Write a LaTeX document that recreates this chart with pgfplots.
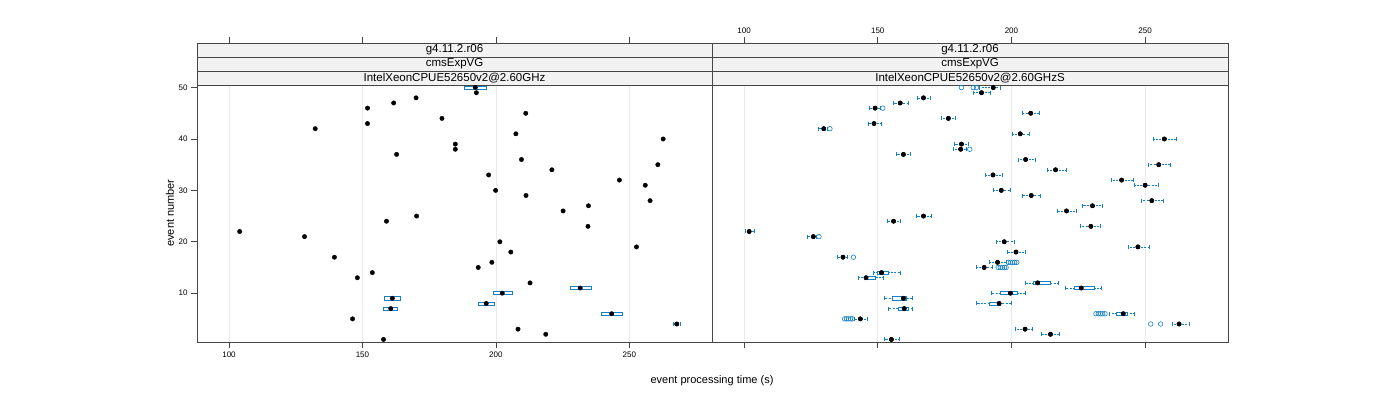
\documentclass[border=0pt]{standalone}
\usepackage{pgfplots}
\pgfplotsset{compat=1.18}
\usepackage{pgfplotstable}
\usepgfplotslibrary{statistics}
\usepackage{fontspec}
\setmainfont{Liberation Sans}
\definecolor{bwblue}{RGB}{20,128,200}
\definecolor{stripbg}{RGB}{242,242,242}
\definecolor{framecol}{RGB}{70,70,70}

% left panel: median per event
\pgfplotstableread{
ev med
1 157.9
2 218.7
3 208.3
4 267.8
5 146.3
6 243.4
7 160.6
8 196.4
9 161.2
10 202.4
11 231.6
12 212.8
13 148.1
14 153.7
15 193.4
16 198.5
17 139.5
18 205.6
19 252.7
20 201.5
21 128.3
22 104.0
23 234.5
24 159.0
25 170.3
26 225.2
27 234.7
28 257.8
29 211.3
30 199.9
31 256.0
32 246.3
33 197.3
34 221.0
35 260.7
36 209.6
37 162.8
38 184.8
39 184.8
40 262.7
41 207.5
42 132.3
43 151.9
44 179.8
45 211.2
46 151.9
47 161.7
48 170.1
49 192.7
50 192.3
}\leftstats

\pgfplotstableread{
ev med lw uw
4 267.8 266.5 269.2
}\leftwhisk

% right panel: median, whisker ends
\pgfplotstableread{
ev med lw uw
1 155.1 152.6 157.9
2 214.6 211.2 218.0
3 205.1 201.6 207.9
4 262.7 260.2 266.7
5 143.5 141.3 145.9
6 241.8 236.6 245.9
7 159.9 153.9 162.8
8 195.4 187.0 199.8
9 159.6 152.6 163.0
10 199.6 192.6 205.0
11 226.1 220.2 233.5
12 209.8 205.0 217.4
13 145.6 142.9 151.9
14 151.4 148.5 158.3
15 189.8 186.7 193.0
16 194.8 191.7 198.0
17 137.0 135.0 138.5
18 201.7 198.6 205.2
19 247.3 243.7 251.6
20 197.3 194.2 200.9
21 125.9 123.8 127.0
22 101.9 100.3 103.8
23 229.7 225.8 233.3
24 155.9 153.4 158.6
25 167.1 164.5 170.1
26 220.6 217.1 224.3
27 230.3 226.6 234.1
28 252.5 248.4 256.7
29 207.4 204.2 210.9
30 196.2 193.3 199.6
31 250.0 245.9 255.1
32 241.2 237.3 245.5
33 193.1 190.1 196.5
34 216.5 213.3 220.5
35 255.1 251.1 259.6
36 205.3 202.5 208.8
37 159.6 157.1 162.1
38 181.0 178.3 183.0
39 181.3 178.8 183.7
40 257.2 253.1 261.7
41 203.3 200.2 206.8
42 129.8 127.9 131.2
43 148.6 146.3 151.4
44 176.4 173.8 179.0
45 207.2 204.0 210.5
46 149.0 146.8 150.9
47 158.4 155.9 161.3
48 167.1 164.6 169.8
49 188.8 185.6 192.0
50 193.2 187.9 195.8
}\rightstats

% right panel: outliers
\pgfplotstableread{
ev x
4 252.1
4 255.8
5 137.6
5 138.3
5 139.0
5 139.8
5 140.5
6 231.6
6 232.5
6 233.3
6 234.1
6 235.0
15 195.0
15 195.8
15 196.6
15 197.4
15 198.0
16 198.8
16 199.6
16 200.4
16 201.2
16 202.0
17 140.9
21 128.0
38 184.4
42 132.1
46 151.9
50 181.3
50 185.7
50 186.9
}\rightout

\pgfplotsset{
  panel/.style={
    scale only axis, width=#1, height=299pt,
    xmin=88, xmax=281, ymin=0.5, ymax=58.67,
    xtick={100,150,200,250},
    tick align=outside, major tick length=6pt,
    tick style={framecol, line width=0.6pt},
    axis line style={framecol, line width=0.8pt},
    xmajorgrids, major grid style={gray!15, line width=0.6pt},
    ticklabel style={font=\fontsize{8}{9}\selectfont},
    /pgf/number format/assume math mode=true,
    clip=true,
  },
  bwbox/.style={draw=bwblue, fill=white, line width=0.55pt, solid,
    boxplot/draw direction=x, boxplot/box extend=0.6,
    boxplot/whisker extend=0,
    boxplot/every median/.style={draw=none},
    forget plot},
  whisk/.style={only marks, mark=none, forget plot,
    error bars/.cd, x dir=both, x explicit, error mark=none,
    error bar style={draw=bwblue, line width=0.6pt, dash pattern=on 2pt off 1.2pt}},
  wend/.style={only marks, mark=|, mark size=2pt,
    mark options={draw=bwblue, line width=0.6pt, solid}, forget plot},
  meddot/.style={only marks, mark=*, mark size=2.2pt,
    mark options={fill=black, draw=black}, forget plot},
  outl/.style={only marks, mark=o, mark size=2.3pt,
    mark options={draw=bwblue, line width=0.6pt}, forget plot},
}

\newcommand{\strips}[1]{%
  \filldraw[fill=stripbg, draw=framecol, line width=0.8pt] (axis cs:88,50.5) rectangle (axis cs:281,53.22);
  \filldraw[fill=stripbg, draw=framecol, line width=0.8pt] (axis cs:88,53.22) rectangle (axis cs:281,55.95);
  \filldraw[fill=stripbg, draw=framecol, line width=0.8pt] (axis cs:88,55.95) rectangle (axis cs:281,58.67);
  \node[font=\fontsize{11.5}{12}\selectfont, inner sep=0pt] at (axis cs:184.5,51.86) {#1};
  \node[font=\fontsize{11.5}{12}\selectfont, inner sep=0pt] at (axis cs:184.5,54.59) {cmsExpVG};
  \node[font=\fontsize{11.5}{12}\selectfont, inner sep=0pt] at (axis cs:184.5,57.31) {g4.11.2.r06};
}

\begin{document}
\begin{tikzpicture}[x=1pt, y=1pt]
\useasboundingbox (0,0) rectangle (1400,400);

% ---------- left panel ----------
\begin{axis}[panel=515pt, at={(197pt,58pt)}, anchor=south west,
  xtick pos=both, xticklabel pos=lower,
  ytick={10,20,30,40,50}, ytick pos=left]
\addplot[whisk] table[x=med, y=ev,
  x error plus expr=\thisrow{uw}-\thisrow{med},
  x error minus expr=\thisrow{med}-\thisrow{lw}] {\leftwhisk};
\addplot[wend] table[x=lw, y=ev] {\leftwhisk};
\addplot[wend] table[x=uw, y=ev] {\leftwhisk};
\addplot[bwbox, boxplot prepared={draw position=50, lower quartile=188.1, median=192.3, upper quartile=196.4, lower whisker=188.1, upper whisker=196.4}] coordinates {};
\addplot[bwbox, boxplot prepared={draw position=11, lower quartile=227.7, median=231.6, upper quartile=235.6, lower whisker=227.7, upper whisker=235.6}] coordinates {};
\addplot[bwbox, boxplot prepared={draw position=10, lower quartile=198.9, median=202.4, upper quartile=206.1, lower whisker=198.9, upper whisker=206.1}] coordinates {};
\addplot[bwbox, boxplot prepared={draw position=9, lower quartile=158.2, median=161.2, upper quartile=164.3, lower whisker=158.2, upper whisker=164.3}] coordinates {};
\addplot[bwbox, boxplot prepared={draw position=8, lower quartile=193.4, median=196.4, upper quartile=199.4, lower whisker=193.4, upper whisker=199.4}] coordinates {};
\addplot[bwbox, boxplot prepared={draw position=7, lower quartile=157.9, median=160.6, upper quartile=163.2, lower whisker=157.9, upper whisker=163.2}] coordinates {};
\addplot[bwbox, boxplot prepared={draw position=6, lower quartile=239.6, median=243.4, upper quartile=247.4, lower whisker=239.6, upper whisker=247.4}] coordinates {};
\addplot[meddot] table[x=med, y=ev] {\leftstats};
\strips{IntelXeonCPUE52650v2@2.60GHz}
\end{axis}

% ---------- right panel ----------
\begin{axis}[panel=516pt, at={(712pt,58pt)}, anchor=south west,
  xtick pos=both, xticklabel pos=upper,
  ytick=\empty]
\addplot[whisk] table[x=med, y=ev,
  x error plus expr=\thisrow{uw}-\thisrow{med},
  x error minus expr=\thisrow{med}-\thisrow{lw}] {\rightstats};
\addplot[wend] table[x=lw, y=ev] {\rightstats};
\addplot[wend] table[x=uw, y=ev] {\rightstats};
\addplot[bwbox, boxplot prepared={draw position=14, lower quartile=150.0, median=151.4, upper quartile=153.8, lower whisker=150.0, upper whisker=153.8}] coordinates {};
\addplot[bwbox, boxplot prepared={draw position=13, lower quartile=145.4, median=145.6, upper quartile=149.0, lower whisker=145.4, upper whisker=149.0}] coordinates {};
\addplot[bwbox, boxplot prepared={draw position=12, lower quartile=208.1, median=209.8, upper quartile=214.6, lower whisker=208.1, upper whisker=214.6}] coordinates {};
\addplot[bwbox, boxplot prepared={draw position=11, lower quartile=223.6, median=226.1, upper quartile=231.0, lower whisker=223.6, upper whisker=231.0}] coordinates {};
\addplot[bwbox, boxplot prepared={draw position=10, lower quartile=195.7, median=199.6, upper quartile=202.1, lower whisker=195.7, upper whisker=202.1}] coordinates {};
\addplot[bwbox, boxplot prepared={draw position=9, lower quartile=155.6, median=159.6, upper quartile=160.6, lower whisker=155.6, upper whisker=160.6}] coordinates {};
\addplot[bwbox, boxplot prepared={draw position=8, lower quartile=191.6, median=195.4, upper quartile=195.7, lower whisker=191.6, upper whisker=195.7}] coordinates {};
\addplot[bwbox, boxplot prepared={draw position=7, lower quartile=157.8, median=159.9, upper quartile=161.3, lower whisker=157.8, upper whisker=161.3}] coordinates {};
\addplot[bwbox, boxplot prepared={draw position=6, lower quartile=239.1, median=241.8, upper quartile=243.4, lower whisker=239.1, upper whisker=243.4}] coordinates {};
\addplot[outl] table[x=x, y=ev] {\rightout};
\addplot[meddot] table[x=med, y=ev] {\rightstats};
\strips{IntelXeonCPUE52650v2@2.60GHzS}
\end{axis}

% axis titles
\node[font=\fontsize{11}{12}\selectfont, rotate=90] at (170,187) {event number};
\node[font=\fontsize{11}{12}\selectfont] at (712,19) {event processing time (s)};
\end{tikzpicture}
\end{document}
